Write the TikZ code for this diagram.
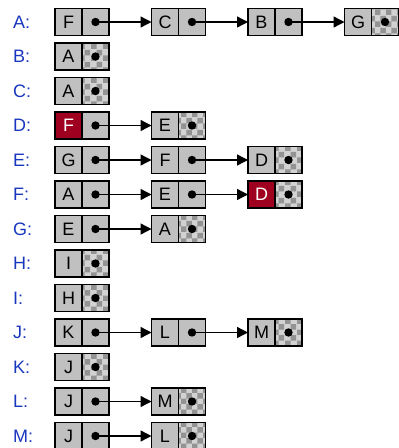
\documentclass[tikz,border=0pt]{standalone}
\usepackage{fontspec}
\setmainfont{Liberation Sans}
\usetikzlibrary{positioning, arrows.meta, patterns}

\definecolor{listgray}{RGB}{192,192,192}
\definecolor{visitred}{RGB}{160,0,32}
\definecolor{labelblue}{RGB}{25,55,190}

\begin{document}
\begin{tikzpicture}[
        x=1pt, y=-1pt,
        node distance=7.5pt and 42.5pt,
        every node/.style={font=\fontsize{18}{20}\selectfont},
        cell/.style={draw, line width=1.5pt, minimum width=27pt, minimum height=27pt, inner sep=0pt, outer sep=0pt},
        dot/.style={path picture={\fill[black] (path picture bounding box.center) circle (4.2pt);}},
        val/.style={cell, fill=listgray},
        visited/.style={cell, fill=visitred, text=white},
        ptr/.style={cell, fill=listgray, dot, right=0pt of #1},
        nil/.style={cell, preaction={fill=gray!35}, pattern=checkerboard, pattern color=gray!85, dot, right=0pt of #1},
        lbl/.style={text=labelblue, anchor=west, inner sep=0pt},
        arrow/.style={-{Triangle[length=11pt,width=11pt]}, line width=1.4pt}
    ]
    \useasboundingbox (0,0) rectangle (399,448);

    % Adjacency lists
    \node[val] (a1) at (68.5,22) {F};
    \node[ptr=a1] (a1p) {};
    \node[val, right=of a1p] (a2) {C};
    \node[ptr=a2] (a2p) {};
    \node[val, right=of a2p] (a3) {B};
    \node[ptr=a3] (a3p) {};
    \node[val, right=of a3p] (a4) {G};
    \node[nil=a4] (a4p) {};

    \node[val, below=of a1] (b1) {A};
    \node[nil=b1] (b1p) {};

    \node[val, below=of b1] (c1) {A};
    \node[nil=c1] (c1p) {};

    \node[visited, below=of c1] (d1) {F};
    \node[ptr=d1] (d1p) {};
    \node[val, right=of d1p] (d2) {E};
    \node[nil=d2] (d2p) {};

    \node[val, below=of d1] (e1) {G};
    \node[ptr=e1] (e1p) {};
    \node[val, right=of e1p] (e2) {F};
    \node[ptr=e2] (e2p) {};
    \node[val, right=of e2p] (e3) {D};
    \node[nil=e3] (e3p) {};

    \node[val, below=of e1] (f1) {A};
    \node[ptr=f1] (f1p) {};
    \node[val, right=of f1p] (f2) {E};
    \node[ptr=f2] (f2p) {};
    \node[visited, right=of f2p] (f3) {D};
    \node[nil=f3] (f3p) {};

    \node[val, below=of f1] (g1) {E};
    \node[ptr=g1] (g1p) {};
    \node[val, right=of g1p] (g2) {A};
    \node[nil=g2] (g2p) {};

    \node[val, below=of g1] (h1) {I};
    \node[nil=h1] (h1p) {};

    \node[val, below=of h1] (i1) {H};
    \node[nil=i1] (i1p) {};

    \node[val, below=of i1] (j1) {K};
    \node[ptr=j1] (j1p) {};
    \node[val, right=of j1p] (j2) {L};
    \node[ptr=j2] (j2p) {};
    \node[val, right=of j2p] (j3) {M};
    \node[nil=j3] (j3p) {};

    \node[val, below=of j1] (k1) {J};
    \node[nil=k1] (k1p) {};

    \node[val, below=of k1] (l1) {J};
    \node[ptr=l1] (l1p) {};
    \node[val, right=of l1p] (l2) {M};
    \node[nil=l2] (l2p) {};

    \node[val, below=of l1] (m1) {J};
    \node[ptr=m1] (m1p) {};
    \node[val, right=of m1p] (m2) {L};
    \node[nil=m2] (m2p) {};

    % Vertex labels
    \node[lbl] (la) at (13,0 |- a1) {A:};
    \node[lbl] (lb) at (13,0 |- b1) {B:};
    \node[lbl] (lc) at (13,0 |- c1) {C:};
    \node[lbl] (ld) at (13,0 |- d1) {D:};
    \node[lbl] (le) at (13,0 |- e1) {E:};
    \node[lbl] (lf) at (13,0 |- f1) {F:};
    \node[lbl] (lg) at (13,0 |- g1) {G:};
    \node[lbl] (lh) at (13,0 |- h1) {H:};
    \node[lbl] (li) at (13,0 |- i1) {I:};
    \node[lbl] (lj) at (13,0 |- j1) {J:};
    \node[lbl] (lk) at (13,0 |- k1) {K:};
    \node[lbl] (ll) at (13,0 |- l1) {L:};
    \node[lbl] (lm) at (13,0 |- m1) {M:};

    % Next pointers
    \draw[arrow] (a1p.center) -- (a2);
    \draw[arrow] (a2p.center) -- (a3);
    \draw[arrow] (a3p.center) -- (a4);
    \draw[arrow] (d1p.center) -- (d2);
    \draw[arrow] (e1p.center) -- (e2);
    \draw[arrow] (e2p.center) -- (e3);
    \draw[arrow] (f1p.center) -- (f2);
    \draw[arrow] (f2p.center) -- (f3);
    \draw[arrow] (g1p.center) -- (g2);
    \draw[arrow] (j1p.center) -- (j2);
    \draw[arrow] (j2p.center) -- (j3);
    \draw[arrow] (l1p.center) -- (l2);
    \draw[arrow] (m1p.center) -- (m2);

\end{tikzpicture}
\end{document}
